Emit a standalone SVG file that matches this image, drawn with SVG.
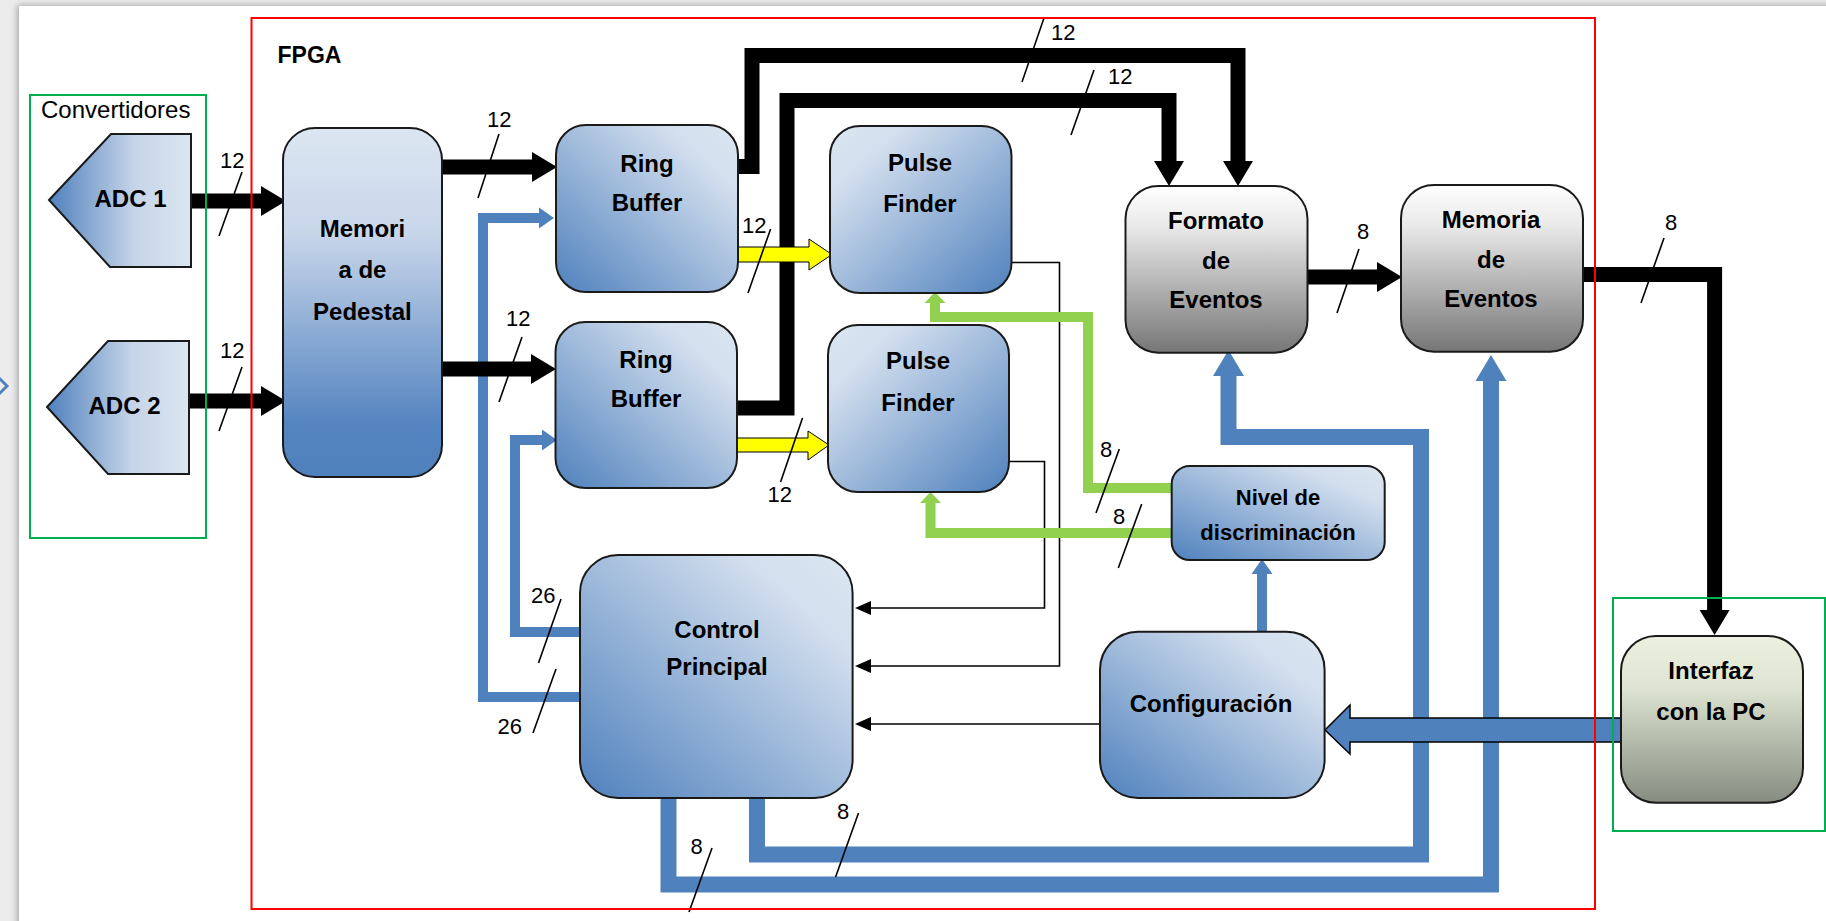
<svg xmlns="http://www.w3.org/2000/svg" width="1826" height="921" viewBox="0 0 1826 921">
<style>
.node{stroke:#1a1a1a;stroke-width:2}
.lbl{font-family:"Liberation Sans",Arial,sans-serif;font-weight:bold;font-size:24px;fill:#000;text-anchor:middle}
.num{font-family:"Liberation Sans",Arial,sans-serif;font-size:22px;fill:#000}
.slash{stroke:#000;stroke-width:1.6;fill:none}
.blk{stroke:#000;stroke-width:15;fill:none;stroke-linejoin:miter}
.blu{stroke:#4f81bd;stroke-width:16;fill:none;stroke-linejoin:miter}
.bluT{stroke:#4f81bd;stroke-width:10;fill:none;stroke-linejoin:miter}
.grn{stroke:#92d050;stroke-width:10;fill:none;stroke-linejoin:miter}
.thin{stroke:#000;stroke-width:1.6;fill:none}
</style>
<defs>
<filter id="shadow" x="-5%" y="-5%" width="110%" height="110%">
<feDropShadow dx="-2" dy="-1" stdDeviation="3" flood-color="#8c8c8c" flood-opacity="0.7"/>
</filter>
<linearGradient id="gV" x1="0" y1="0" x2="0" y2="1">
<stop offset="0" stop-color="#dce6f2"/><stop offset="0.3" stop-color="#c8d6ea"/><stop offset="0.85" stop-color="#5584c0"/><stop offset="1" stop-color="#4f81bd"/>
</linearGradient>
<linearGradient id="gTR" x1="1" y1="0" x2="0" y2="1">
<stop offset="0" stop-color="#dce6f2"/><stop offset="0.2" stop-color="#d3dfee"/><stop offset="1" stop-color="#4f81bd"/>
</linearGradient>
<linearGradient id="gTL" x1="0" y1="0" x2="1" y2="1">
<stop offset="0" stop-color="#dce6f2"/><stop offset="0.2" stop-color="#d3dfee"/><stop offset="1" stop-color="#4f81bd"/>
</linearGradient>
<linearGradient id="gH" x1="0" y1="0" x2="1" y2="0">
<stop offset="0" stop-color="#4f81bd"/><stop offset="0.6" stop-color="#c6d4e8"/><stop offset="1" stop-color="#dce6f2"/>
</linearGradient>
<linearGradient id="gGray" x1="0" y1="0" x2="0" y2="1">
<stop offset="0" stop-color="#ffffff"/><stop offset="0.25" stop-color="#e8e8e8"/><stop offset="1" stop-color="#767676"/>
</linearGradient>
<linearGradient id="gOl" x1="0" y1="0" x2="0" y2="1">
<stop offset="0" stop-color="#ebf1de"/><stop offset="0.3" stop-color="#dfe5d2"/><stop offset="1" stop-color="#868c80"/>
</linearGradient>
<marker id="mBlk" markerUnits="userSpaceOnUse" markerWidth="26" markerHeight="32" viewBox="0 -16 26 32" refX="0" refY="0" orient="auto" overflow="visible">
<path d="M0,-15 L25,0 L0,15 z" fill="#000"/>
</marker>
<marker id="mBluS" markerUnits="userSpaceOnUse" markerWidth="16" markerHeight="22" viewBox="0 -11 16 22" refX="0" refY="0" orient="auto" overflow="visible">
<path d="M0,-10.5 L15,0 L0,10.5 z" fill="#4f81bd"/>
</marker>
<marker id="mBluB" markerUnits="userSpaceOnUse" markerWidth="30" markerHeight="34" viewBox="0 -17 30 34" refX="0" refY="0" orient="auto" overflow="visible">
<path d="M0,-15.5 L26,0 L0,15.5 z" fill="#4f81bd"/>
</marker>
<marker id="mGrn" markerUnits="userSpaceOnUse" markerWidth="12" markerHeight="22" viewBox="0 -11 12 22" refX="0" refY="0" orient="auto" overflow="visible">
<path d="M0,-10.5 L11,0 L0,10.5 z" fill="#92d050"/>
</marker>
<marker id="mThin" markerUnits="userSpaceOnUse" markerWidth="17" markerHeight="16" viewBox="0 -8 17 16" refX="0" refY="0" orient="auto" overflow="visible">
<path d="M0,-7 L16,0 L0,7 z" fill="#000"/>
</marker>
</defs>

<rect x="0" y="0" width="1826" height="921" fill="#ececec"/>
<rect x="19" y="6" width="1820" height="930" fill="#ffffff" filter="url(#shadow)"/>
<path d="M-2,377 L7,386 L-2,395" fill="none" stroke="#4f81bd" stroke-width="3"/>

<g id="connectors">
<!-- thin control lines -->
<path class="thin" d="M1011,262.5 H1059.5 V666 H871" marker-end="url(#mThin)"/>
<path class="thin" d="M1009,461.5 H1044.5 V608 H871" marker-end="url(#mThin)"/>
<path class="thin" d="M1100,724 H871" marker-end="url(#mThin)"/>
<!-- blue control to ring buffers -->
<path class="bluT" d="M581,697 H483 V218 H539" marker-end="url(#mBluS)"/>
<path class="bluT" d="M581,632 H515 V440 H542" marker-end="url(#mBluS)"/>
<!-- blue from control principal bottom -->
<path class="blu" d="M668.5,797 V884.5 H1491 V381" marker-end="url(#mBluB)"/>
<path class="blu" d="M757,797 V854.5 H1421 V437 H1228.5 V376" marker-end="url(#mBluB)"/>
<!-- config to nivel -->
<path class="bluT" d="M1262,632 V574" marker-end="url(#mBluS)"/>
<!-- green -->
<path class="grn" d="M1172,488 H1088 V317 H935 V303" marker-end="url(#mGrn)"/>
<path class="grn" d="M1172,533 H930.5 V503" marker-end="url(#mGrn)"/>
<!-- black data paths -->
<path class="blk" d="M191,201 H261" marker-end="url(#mBlk)"/>
<path class="blk" d="M189,401 H261" marker-end="url(#mBlk)"/>
<path class="blk" d="M442,167 H532" marker-end="url(#mBlk)"/>
<path class="blk" d="M442,369 H531" marker-end="url(#mBlk)"/>
<path class="blk" d="M738,166.5 H752 V55.5 H1238 V161" marker-end="url(#mBlk)"/>
<path class="blk" d="M737,408 H787 V100.5 H1169 V161" marker-end="url(#mBlk)"/>
<path class="blk" d="M1307,277 H1377" marker-end="url(#mBlk)"/>
<path class="blk" d="M1583,274.5 H1714.6 V610" marker-end="url(#mBlk)"/>
<!-- yellow block arrows -->
<polygon points="738,247 809,247 809,239 832,254.5 809,270 809,262 738,262" fill="#ffff00" stroke="#000" stroke-width="1"/>
<polygon points="737,438 808,438 808,431 829,445 808,460 808,452 737,452" fill="#ffff00" stroke="#000" stroke-width="1"/>
<!-- big blue arrow from interfaz -->
<polygon points="1621,718 1350,718 1350,705 1325,730 1350,754 1350,742 1621,742" fill="#4f81bd" stroke="#000" stroke-width="1.5"/>
<!-- bus width labels -->
<text class="num" x="220" y="168">12</text><line class="slash" x1="242" y1="172" x2="219" y2="236"/>
<text class="num" x="220" y="358">12</text><line class="slash" x1="242" y1="367" x2="219" y2="431"/>
<text class="num" x="487" y="127">12</text><line class="slash" x1="499" y1="134" x2="478" y2="198"/>
<text class="num" x="506" y="326">12</text><line class="slash" x1="522" y1="337" x2="499" y2="402"/>
<text class="num" x="1051" y="40">12</text><line class="slash" x1="1044" y1="18" x2="1022" y2="82"/>
<text class="num" x="1108" y="84">12</text><line class="slash" x1="1094" y1="70" x2="1071" y2="135"/>
<text class="num" x="742" y="233">12</text><line class="slash" x1="770.6" y1="229" x2="748" y2="293"/>
<text class="num" x="767.6" y="502">12</text><line class="slash" x1="802.5" y1="418" x2="780.6" y2="482"/>
<text class="num" x="1357" y="239">8</text><line class="slash" x1="1359" y1="249" x2="1337" y2="313"/>
<text class="num" x="1665" y="230">8</text><line class="slash" x1="1664" y1="238" x2="1641" y2="303"/>
<text class="num" x="1100" y="457">8</text><line class="slash" x1="1119.3" y1="449" x2="1096" y2="513"/>
<text class="num" x="1113" y="524">8</text><line class="slash" x1="1141.7" y1="504" x2="1118.3" y2="568"/>
<text class="num" x="837" y="819">8</text><line class="slash" x1="858.5" y1="813" x2="835.6" y2="877"/>
<text class="num" x="690.5" y="854">8</text><line class="slash" x1="712" y1="848" x2="689" y2="912"/>
<text class="num" x="531" y="603">26</text><line class="slash" x1="561" y1="599" x2="538.5" y2="663"/>
<text class="num" x="497.5" y="734">26</text><line class="slash" x1="556" y1="669" x2="533" y2="733"/>
</g>

<g id="adc1"><polygon class="node" points="49,200 111,134 191,134 191,267 110,267" fill="url(#gH)"/><text class="lbl" x="130.5" y="207">ADC 1</text></g>
<g id="adc2"><polygon class="node" points="47,407 108,341 189,341 189,474 108,474" fill="url(#gH)"/><text class="lbl" x="124.5" y="414">ADC 2</text></g>
<g id="memoria-pedestal"><rect class="node" x="283" y="128" width="159" height="349" rx="32" fill="url(#gV)"/><text class="lbl" x="362.4" y="237">Memori</text><text class="lbl" x="362.4" y="278">a de</text><text class="lbl" x="362.4" y="320">Pedestal</text></g>
<g id="ring-buffer-1"><rect class="node" x="556" y="125" width="182" height="167" rx="30" fill="url(#gTR)"/><text class="lbl" x="647" y="172">Ring</text><text class="lbl" x="647" y="211">Buffer</text></g>
<g id="ring-buffer-2"><rect class="node" x="555.5" y="322" width="181.5" height="166" rx="30" fill="url(#gTR)"/><text class="lbl" x="646" y="368">Ring</text><text class="lbl" x="646" y="407">Buffer</text></g>
<g id="pulse-finder-1"><rect class="node" x="830" y="126" width="181.5" height="167" rx="30" fill="url(#gTL)"/><text class="lbl" x="920" y="171">Pulse</text><text class="lbl" x="920" y="212">Finder</text></g>
<g id="pulse-finder-2"><rect class="node" x="828" y="325" width="181" height="167" rx="30" fill="url(#gTL)"/><text class="lbl" x="918" y="369">Pulse</text><text class="lbl" x="918" y="411">Finder</text></g>
<g id="formato-eventos"><rect class="node" x="1125.5" y="186" width="182" height="166.7" rx="33" fill="url(#gGray)"/><text class="lbl" x="1216" y="229">Formato</text><text class="lbl" x="1216" y="269">de</text><text class="lbl" x="1216" y="308">Eventos</text></g>
<g id="memoria-eventos"><rect class="node" x="1401" y="185" width="182" height="166.7" rx="33" fill="url(#gGray)"/><text class="lbl" x="1491" y="228">Memoria</text><text class="lbl" x="1491" y="268">de</text><text class="lbl" x="1491" y="307">Eventos</text></g>
<g id="nivel-discriminacion"><rect class="node" x="1171.7" y="466" width="213" height="94" rx="18" fill="url(#gTR)"/><text class="lbl" style="font-size:22px" x="1278" y="505">Nivel de</text><text class="lbl" style="font-size:22px" x="1278" y="540">discriminación</text></g>
<g id="control-principal"><rect class="node" x="580" y="555" width="272.6" height="243" rx="38" fill="url(#gTR)"/><text class="lbl" x="717" y="638">Control</text><text class="lbl" x="717" y="675">Principal</text></g>
<g id="configuracion"><rect class="node" x="1100" y="631.7" width="224.6" height="166.3" rx="38" fill="url(#gTR)"/><text class="lbl" x="1211" y="712">Configuración</text></g>
<g id="interfaz-pc"><rect class="node" x="1621" y="636" width="182" height="166.7" rx="35" fill="url(#gOl)"/><text class="lbl" x="1711" y="679">Interfaz</text><text class="lbl" x="1711" y="720">con la PC</text></g>

<g id="fpga"><rect x="251.5" y="18" width="1343.5" height="891" fill="none" stroke="#ff0000" stroke-width="2"/><text x="277.5" y="63" style="font-family:'Liberation Sans',Arial,sans-serif;font-weight:bold;font-size:23px">FPGA</text></g>
<g id="convertidores"><rect x="30" y="95" width="176" height="443" fill="none" stroke="#00b050" stroke-width="2"/><text x="41" y="118" style="font-family:'Liberation Sans',Arial,sans-serif;font-size:24px">Convertidores</text></g>
<g id="pc-group"><rect x="1613" y="598" width="212" height="233" fill="none" stroke="#00b050" stroke-width="2"/></g>
</svg>
